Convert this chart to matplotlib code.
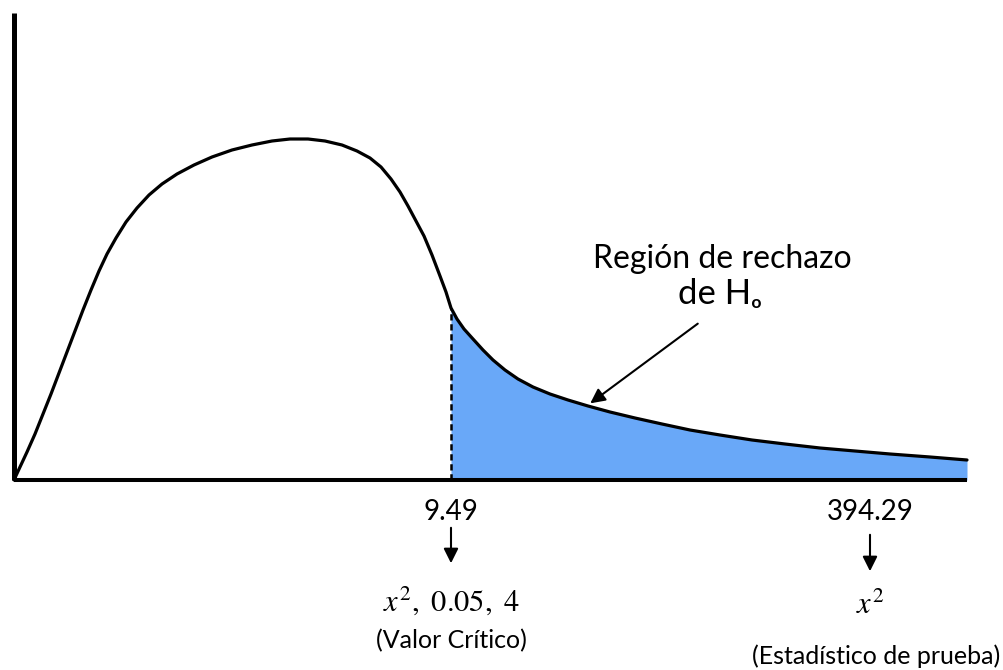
import matplotlib
matplotlib.use("Agg")
import matplotlib.pyplot as plt

plt.rcParams['font.family'] = ['Lato', 'DejaVu Sans']
plt.rcParams['mathtext.fontset'] = 'stix'

# curve, in picture pixels (x right, y down)
curve_px = [14, 20, 27, 35, 43, 51, 59, 67, 75, 83, 91, 99, 107, 116, 126, 137,
            149, 162, 177, 194, 212, 232, 252, 272, 290, 308, 325, 342, 357, 370,
            381, 391, 400, 408, 416, 424, 432, 440, 446, 451, 457, 464, 473, 483,
            493, 505, 518, 533, 550, 568, 588, 610, 635, 662, 690, 720, 752, 785,
            820, 855, 890, 930, 967]
curve_py = [480, 467, 452, 434, 414, 394, 373, 352, 331, 310, 290, 271, 254, 238, 222, 208,
            195, 184, 174, 165, 157, 150, 145, 141, 139, 139, 141, 145, 151, 158,
            167, 179, 192, 206, 221, 236, 255, 276, 292, 308, 319, 329, 339, 350,
            360, 370, 379, 387, 394, 400, 406, 412, 418, 424, 430, 435, 440, 444,
            448, 451, 454, 457, 460]

x0, base = 14, 480
xs = [p - x0 for p in curve_px]
ys = [base - p for p in curve_py]

crit_x = 451 - x0
end_x = 967 - x0
top_y = base - 13

crit_label = "9.49"
stat_label = "394.29"
crit_sym = r"$x^2,\ 0.05,\ 4$"
stat_sym = r"$x^2$"
crit_note = "(Valor Crítico)"
stat_note = "(Estadístico de prueba)"

fig = plt.figure(figsize=(10.04, 6.70), dpi=100)
ax = fig.add_axes([0, 0, 1, 1])
ax.set_xlim(-x0, 1004 - x0)
ax.set_ylim(base - 670, base)
ax.axis('off')

# shaded rejection region
tail_x = [x for x in xs if x >= crit_x]
tail_y = [y for x, y in zip(xs, ys) if x >= crit_x]
ax.fill_between(tail_x, 0, tail_y, color='#69a8f8', lw=0)
ax.plot([crit_x, crit_x], [0, tail_y[0]], color='black', lw=1.8, ls=(0, (2.5, 1.5)))

ax.plot(xs, ys, color='black', lw=2.3, solid_capstyle='round', solid_joinstyle='round')

# axes
ax.plot([0, 0], [0, top_y], color='black', lw=3.6, solid_capstyle='butt')
ax.plot([0, end_x], [0, 0], color='black', lw=2.9, solid_capstyle='butt')

# rejection region annotation
ax.text(722 - x0, base - 259, "Región de rechazo", fontsize=23, ha='center', va='center')
ax.text(720 - x0, base - 294, "de Hₒ", fontsize=25, ha='center', va='center')
ax.annotate("", xy=(588 - x0, base - 405), xytext=(700 - x0, base - 322),
            arrowprops=dict(arrowstyle='-|>', color='black', lw=1.5, mutation_scale=22))

# critical value and test statistic labels
for cx, lab, sym, a0, a1, sy in [(451, crit_label, crit_sym, 525, 566, 601),
                                 (870, stat_label, stat_sym, 532, 574, 604)]:
    ax.text(cx - x0, base - 512, lab, fontsize=20, ha='center', va='center')
    ax.annotate("", xy=(cx - x0, base - a1), xytext=(cx - x0, base - a0),
                arrowprops=dict(arrowstyle='-|>', color='black', lw=1.5, mutation_scale=22))
    ax.text(cx - x0, base - sy, sym, fontsize=22, ha='center', va='center')

ax.text(451 - x0, base - 648, crit_note, fontsize=18, ha='center', va='baseline')
ax.text(1000 - x0, base - 664, stat_note, fontsize=18, ha='right', va='baseline')

fig.savefig("out.png", dpi=100)
